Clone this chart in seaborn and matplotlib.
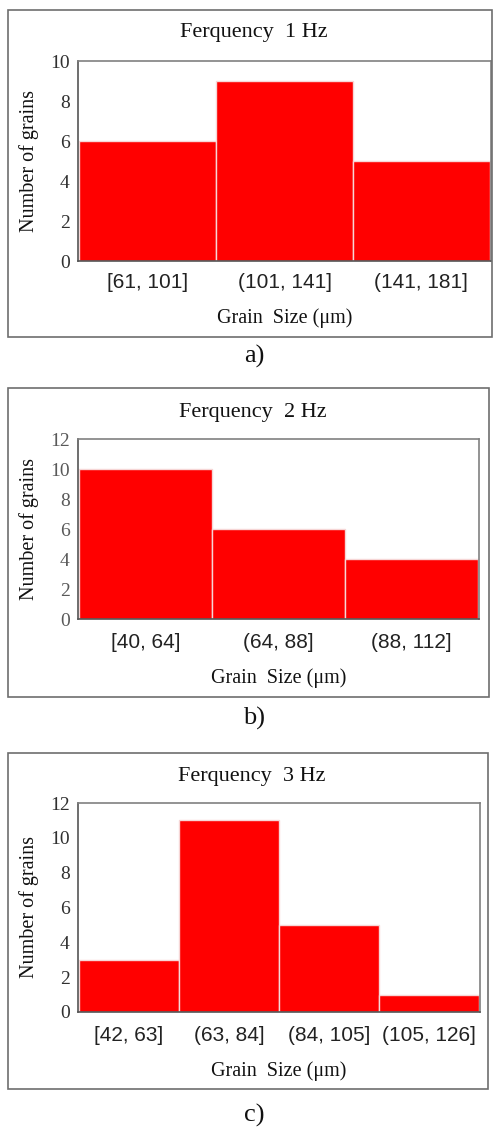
import matplotlib
matplotlib.use("Agg")
import matplotlib.pyplot as plt
from matplotlib.patches import Rectangle
import seaborn as sns

# Grain-size histograms for three loading frequencies
titles = ["Ferquency  1 Hz", "Ferquency  2 Hz", "Ferquency  3 Hz"]
bins_1hz = ["[61, 101]", "(101, 141]", "(141, 181]"]
counts_1hz = [6, 9, 5]
bins_2hz = ["[40, 64]", "(64, 88]", "(88, 112]"]
counts_2hz = [10, 6, 4]
bins_3hz = ["[42, 63]", "(63, 84]", "(84, 105]", "(105, 126]"]
counts_3hz = [3, 11, 5, 1]
y_max = [10, 12, 12]
panel_tags = ["a)", "b)", "c)"]

sns.set_theme(style="white")
plt.rcParams["font.family"] = ["Liberation Serif", "DejaVu Serif"]

W, H = 493, 1129
fig = plt.figure(figsize=(W / 100, H / 100), dpi=100)

def fx(px):
    return px / W

def fy(py):
    return 1 - py / H

# pixel layout: axes (left, top, right, bottom), box (left, top, right, bottom)
layouts = [
    dict(ax=(78, 61, 491, 261), box=(8, 10, 492, 337), title_y=33, xt=283, xl=318, tag=356, tick_color="#303030"),
    dict(ax=(78, 439, 479, 619), box=(8, 388, 489, 697), title_y=412, xt=643, xl=678, tag=718, tick_color="#595959"),
    dict(ax=(78, 803, 480, 1012), box=(8, 753, 488, 1089), title_y=777, xt=1036, xl=1071, tag=1115, tick_color="#303030"),
]
datasets = [(bins_1hz, counts_1hz), (bins_2hz, counts_2hz), (bins_3hz, counts_3hz)]

for i, (lay, (cats, vals)) in enumerate(zip(layouts, datasets)):
    l, t, r, b = lay["ax"]
    ax = fig.add_axes([fx(l), fy(b), fx(r - l), (b - t) / H])
    sns.barplot(x=cats, y=vals, order=cats, color="#FF0000", saturation=1,
                width=1.0, edgecolor="#f6d6d6", linewidth=1.0, ax=ax)
    n = len(cats)
    ax.set_xlim(-0.51, n - 0.49)
    ax.set_ylim(0, y_max[i])
    ax.set_yticks(range(0, y_max[i] + 1, 2))
    ax.tick_params(axis="both", length=0)
    ax.tick_params(axis="y", labelsize=14, labelcolor=lay["tick_color"], pad=6)
    ax.tick_params(axis="x", labelsize=15, labelcolor="#222222",
                   pad=(lay["xt"] - b) * 0.72 - 7.5)
    for lab in ax.get_xticklabels():
        lab.set_fontfamily(["Liberation Sans", "DejaVu Sans"])
    for side, sp in ax.spines.items():
        sp.set_visible(True)
        sp.set_color("#555555" if side in ("left", "bottom") else "#808080")
        sp.set_linewidth(1.2)

    ax.set_xlabel("Grain  Size (\u03bcm)", fontsize=14.5, color="#111111")
    ax.xaxis.label.set_va("center")
    ax.xaxis.set_label_coords(0.5, -(lay["xl"] - b) / (b - t))
    ax.set_ylabel("Number of grains", fontsize=14.5, color="#111111")
    ax.yaxis.label.set_va("center")
    ax.yaxis.set_label_coords((29 - l) / (r - l), 0.5)

    bl, bt, br, bb = lay["box"]
    fig.patches.append(Rectangle((fx(bl), fy(bb)), fx(br - bl), (bb - bt) / H,
                                 transform=fig.transFigure, fill=False,
                                 edgecolor="#6e6e6e", linewidth=1.2))
    fig.text(fx((bl + br) / 2 + 4), fy(lay["title_y"]), titles[i],
             ha="center", va="center", fontsize=16, color="#111111")
    fig.text(fx(254), fy(lay["tag"]), panel_tags[i],
             ha="center", va="center", fontsize=19, color="#111111")

fig.savefig("out.png", dpi=100)
